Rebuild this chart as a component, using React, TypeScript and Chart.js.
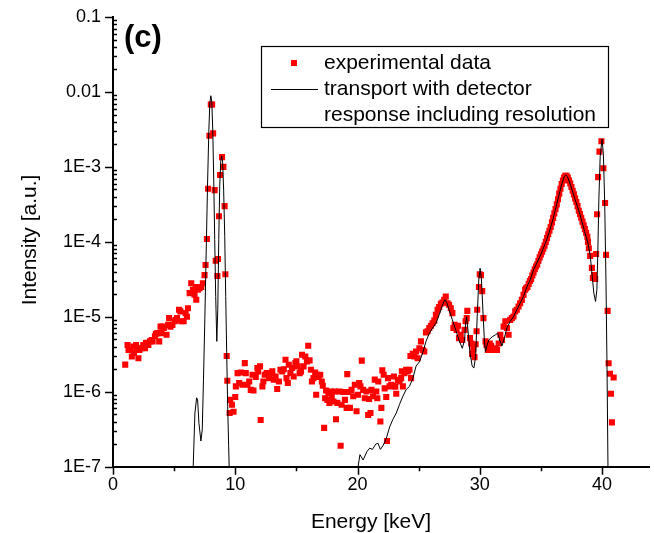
import React, { useEffect, useRef } from 'react';
import { Chart, registerables } from 'chart.js';

Chart.register(...registerables);

const FONT = '"Liberation Sans", Arial, Helvetica, sans-serif';

// ---------- data ----------
const expE = [
  1.00, 1.19, 1.27, 1.40, 1.54, 1.67, 1.72, 1.89, 2.00, 2.08, 2.16, 2.35, 2.48, 2.62, 2.70, 2.89,
  3.03, 3.16, 3.24, 3.43, 3.51, 3.62, 3.78, 3.89, 3.97, 4.05, 4.16, 4.38, 4.51, 4.59, 4.70, 4.86,
  5.05, 5.13, 5.24, 5.40, 5.51, 5.59, 5.78, 5.94, 6.05, 6.13, 6.27, 6.40, 6.54, 6.67, 6.76, 6.81,
  6.94, 7.08, 7.22, 7.35, 7.49, 7.57, 7.68,
  7.78, 7.89, 8.00, 8.11, 8.19, 8.32, 8.40, 8.54, 8.59, 8.67, 8.76, 8.92, 9.03, 9.13, 9.19, 9.30,
  9.35, 9.54, 9.59, 9.73, 9.86, 10.00,
  10.05, 10.19, 10.32, 10.46, 10.59, 10.78, 10.86, 11.00, 11.14, 11.27, 11.41, 11.49, 11.68, 11.81,
  11.87, 12.03, 12.08, 12.22, 12.30, 12.41, 12.57, 12.76, 12.89, 13.03, 13.16, 13.30, 13.43, 13.57,
  13.70, 13.84, 13.97, 14.11, 14.19, 14.30, 14.38, 14.51, 14.65, 14.78, 14.92, 15.00, 15.11, 15.27,
  15.38, 15.46, 15.59, 15.73, 15.86, 15.97, 16.08, 16.19, 16.27, 16.40, 16.54, 16.62, 16.68, 16.81,
  16.95, 17.08, 17.16, 17.27, 17.35, 17.43, 17.54, 17.62, 17.70, 17.81, 17.89, 18.03, 18.16, 18.24,
  18.35, 18.52, 18.62, 18.70, 18.84, 18.97, 19.11, 19.16, 19.24, 19.38, 19.51, 19.65, 19.78, 19.92,
  20.05, 20.14, 20.24, 20.35, 20.46, 20.60, 20.73, 20.87, 20.95, 21.06, 21.14, 21.27, 21.41, 21.54,
  21.62, 21.70, 21.87, 21.95, 22.03, 22.14, 22.22, 22.35, 22.41, 22.49, 22.62, 22.76,
  22.90, 22.98, 23.09, 23.17, 23.30, 23.44, 23.57, 23.63, 23.71, 23.84, 23.98, 24.11, 24.25, 24.33,
  24.38, 24.52, 24.65, 24.79, 24.92, 25.06, 25.19, 25.33, 25.46, 25.60, 25.73, 25.87, 26.01, 26.14,
  26.28, 26.41, 26.55, 26.68, 26.82, 26.95, 27.09, 27.22, 27.36, 27.49, 27.63, 27.76, 27.84, 27.95,
  28.11, 28.22, 28.30, 28.44, 28.57, 28.76, 28.84, 28.93, 28.98, 29.20, 29.30, 29.38, 29.47, 29.57,
  29.66, 29.74, 29.79, 29.93, 30.00, 30.10, 30.20, 30.30, 30.47, 30.55, 30.66, 30.74, 30.82, 30.93,
  31.01, 31.14, 31.28, 31.41, 31.55, 31.68, 31.82, 31.95, 32.09, 32.22, 32.36, 32.49, 32.63, 32.76,
  32.90, 33.03, 33.17, 33.30, 33.44, 33.58, 33.71, 33.79,
  33.9, 34.0, 34.1, 34.2, 34.3, 34.4, 34.5, 34.6, 34.7, 34.8, 34.9, 35.0, 35.1, 35.2, 35.3, 35.4,
  35.5, 35.6, 35.7, 35.8, 35.9, 36.0, 36.1, 36.2, 36.3, 36.4, 36.5, 36.6, 36.7, 36.8, 36.9, 37.0,
  37.1, 37.2, 37.3, 37.4, 37.5, 37.6, 37.7, 37.8, 37.9, 38.0, 38.1, 38.2, 38.3, 38.4, 38.5, 38.6,
  38.7, 38.8, 38.85, 38.92, 39.03, 39.17, 39.25, 39.35, 39.44, 39.52, 39.60, 39.68, 39.79, 39.95,
  40.11, 40.25, 40.33, 40.46, 40.54, 40.65, 40.73, 40.81, 40.95,
];

const expI = [
  2.3e-6, 4.2e-6, 3.6e-6, 3.6e-6, 2.95e-6, 4.0e-6, 3.3e-6, 4.2e-6, 3.8e-6, 2.8e-6, 3.6e-6, 3.8e-6, 4.2e-6, 3.8e-6, 4.5e-6, 4.2e-6,
  4.7e-6, 4.9e-6, 4.7e-6, 5.5e-6, 5.9e-6, 6.05e-6, 4.7e-6, 7.4e-6, 6.05e-6, 7.4e-6, 7.1e-6, 5.75e-6, 7.8e-6, 9.6e-6, 7.4e-6, 7.8e-6,
  8.7e-6, 9.1e-6, 9.6e-6, 1.24e-5, 1.18e-5, 8.7e-6, 8.7e-6, 1.12e-5, 1.0e-5, 1.3e-5, 2.07e-5, 2.8e-5, 2.3e-5, 1.97e-5, 2.5e-5, 1.69e-5,
  2.3e-5, 2.4e-5, 2.5e-5, 2.8e-5, 3.6e-5, 4.9e-5, 1.09e-4,
  5.1e-4, 2.6e-3, 6.8e-3, 6.8e-3, 2.8e-3, 4.9e-4, 5.6e-5, 3.5e-5, 5.9e-5, 2.2e-4, 7.8e-4, 1.35e-3, 1.0e-3, 3.0e-4, 3.7e-5, 3.0e-6,
  1.4e-6, 5.2e-7, 7.8e-7, 6.7e-7, 5.4e-7, 8.5e-7,
  1.18e-6, 1.77e-6, 1.31e-6, 1.81e-6, 1.24e-6, 2.41e-6, 1.77e-6, 1.24e-6, 1.37e-6, 1.06e-6, 1.69e-6, 1.04e-6, 1.57e-6, 2.07e-6,
  1.87e-6, 2.18e-6, 4.2e-7, 1.18e-6, 1.37e-6, 1.69e-6, 1.77e-6, 1.52e-6, 1.77e-6, 1.87e-6, 1.45e-6, 1.6e-6, 1.09e-6, 1.37e-6,
  1.97e-6, 1.87e-6, 2.0e-6, 2.67e-6, 1.52e-6, 1.31e-6, 2.29e-6, 1.77e-6, 2.07e-6, 1.6e-6, 2.41e-6, 2.54e-6, 2.18e-6, 1.77e-6,
  1.87e-6, 3.11e-6, 2.18e-6, 2.96e-6, 2.54e-6, 4.1e-6, 2.62e-6, 1.97e-6, 1.37e-6, 1.52e-6, 1.81e-6, 9.1e-7, 1.69e-6, 1.57e-6,
  1.69e-6, 1.37e-6, 1.2e-6, 3.3e-7, 8.2e-7, 1.04e-6, 7.8e-7, 9.6e-7, 7.1e-7, 1.01e-6, 8.7e-7, 7.4e-7, 1.01e-6, 4.3e-7,
  7.1e-7, 1.01e-6, 1.9e-7, 6.7e-7, 9.9e-7, 7.8e-7, 6.1e-7, 1.72e-6, 9.9e-7, 6.1e-7, 1.06e-6, 8.7e-7, 1.24e-6, 5.5e-7,
  9.1e-7, 1.31e-6, 1.18e-6, 2.6e-6, 1.06e-6, 8.2e-7, 1.01e-6, 4.9e-7, 8.0e-7, 5.2e-7, 1.06e-6, 8.7e-7, 1.45e-6, 1.01e-6,
  8.2e-7, 1.37e-6, 4.0e-7, 6.1e-7, 1.93e-6, 1.69e-6, 1.11e-6, 8.5e-7, 2.2e-7, 1.52e-6, 1.18e-6, 1.24e-6,
  1.2e-6, 1.6e-6, 1.17e-6, 9.4e-7, 1.44e-6, 1.37e-6, 1.52e-6, 1.87e-6, 1.18e-6, 1.77e-6, 1.97e-6, 1.87e-6, 1.97e-6, 3.0e-6,
  1.52e-6, 3.2e-6, 2.96e-6, 3.45e-6, 2.8e-6, 3.8e-6, 4.7e-6, 3.6e-6, 3.45e-6, 6.2e-6, 6.4e-6, 7.1e-6, 7.6e-6, 8.2e-6,
  8.9e-6, 1.06e-5, 1.24e-5, 1.35e-5, 1.49e-5, 1.55e-5, 1.68e-5, 1.87e-5, 1.52e-5, 1.45e-5, 1.3e-5, 1.12e-5, 7.1e-6, 7.8e-6,
  6.7e-6, 7.6e-6, 5.2e-6, 5.75e-6, 4.9e-6, 6.7e-6, 8.7e-6, 9.6e-6, 1.2e-5, 5.2e-6, 4.4e-6, 3.2e-6, 3.7e-6, 2.9e-6,
  4.3e-6, 6.4e-6, 1.24e-5, 2.5e-5, 3.7e-5, 3.6e-5, 2.2e-5, 9.6e-6, 4.7e-6, 4.2e-6, 3.6e-6, 3.7e-6, 4.4e-6, 4.1e-6,
  3.6e-6, 3.7e-6, 3.8e-6, 3.6e-6, 4.4e-6, 5.75e-6, 4.9e-6, 7.4e-6, 8.7e-6, 7.1e-6, 5.75e-6, 9.1e-6, 9.6e-6, 1.01e-5,
  1.18e-5, 1.24e-5, 1.37e-5, 1.52e-5, 1.68e-5, 1.96e-5, 2.3e-5, 2.4e-5,
  2.5e-5, 2.75e-5, 3.0e-5, 3.2e-5, 3.55e-5, 3.9e-5, 4.3e-5, 4.7e-5, 5.0e-5, 5.6e-5, 6.2e-5, 6.8e-5, 7.4e-5, 8.1e-5, 8.9e-5, 1.0e-4,
  1.12e-4, 1.26e-4, 1.41e-4, 1.58e-4, 1.82e-4, 2.09e-4, 2.4e-4, 2.75e-4, 3.16e-4, 3.7e-4, 4.4e-4, 5.1e-4, 5.9e-4, 6.6e-4, 7.2e-4, 7.6e-4,
  7.6e-4, 7.2e-4, 6.6e-4, 6.0e-4, 5.4e-4, 4.8e-4, 4.3e-4, 3.8e-4, 3.4e-4, 3.0e-4, 2.6e-4, 2.35e-4, 2.1e-4, 1.86e-4, 1.66e-4, 1.48e-4,
  1.32e-4, 1.17e-4, 1.0e-4, 8.2e-5, 6.5e-5, 4.5e-5, 3.3e-5, 3.6e-5, 3.2e-5, 6.9e-5, 2.34e-4, 7.3e-4, 1.6e-3, 2.2e-3,
  9.6e-4, 3.3e-4, 6.7e-5, 1.2e-5, 2.4e-6, 1.74e-6, 9.4e-7, 3.9e-7, 1.55e-6,
];

const modelE = [
  6.55, 6.70, 6.84, 6.92, 7.03, 7.19, 7.30, 7.40, 7.51, 7.62, 7.73, 7.84, 7.92, 8.00, 8.08, 8.16,
  8.24, 8.32, 8.40, 8.49, 8.57, 8.65, 8.73, 8.81, 8.89, 8.97, 9.05, 9.14, 9.22, 9.30, 9.38, 9.46, 9.51,
  15.0,
  20.0, 20.2, 20.46, 20.78, 21.00, 21.22, 21.49, 21.68, 21.87, 22.08, 22.36, 22.63, 22.90, 23.17, 23.44,
  23.71, 23.98, 24.25, 24.52, 24.79, 25.06, 25.33, 25.60, 25.87, 26.14, 26.41, 26.68, 26.95, 27.14, 27.30,
  27.49, 27.76, 28.03, 28.30, 28.57, 28.76, 28.84, 28.92, 29.03, 29.20, 29.38, 29.52, 29.66, 29.79, 29.92,
  30.03, 30.14, 30.28, 30.39, 30.47, 30.60, 30.74, 31.01, 31.28, 31.47, 31.63, 31.82, 32.01, 32.22, 32.49,
  32.76, 33.03, 33.30, 33.58, 33.85, 34.12, 34.39, 34.66, 34.93, 35.20, 35.47, 35.74, 36.01, 36.41, 36.69,
  36.90, 37.04, 37.17, 37.42, 37.77, 38.17, 38.58, 38.85, 39.04, 39.20, 39.33, 39.47, 39.58, 39.66, 39.74,
  39.85, 40.00, 40.11, 40.22, 40.33, 40.41, 40.49,
];

const modelI = [
  9e-8, 5.2e-7, 8.3e-7, 7.8e-7, 3.8e-7, 2.2e-7, 3.1e-7, 1.44e-6, 9.1e-6, 7.1e-5, 5.5e-4, 3.1e-3, 7.0e-3, 8.9e-3, 7.4e-3, 3.1e-3,
  6.7e-4, 1.07e-4, 1.87e-5, 4.7e-6, 1.24e-5, 1.07e-4, 5.5e-4, 1.18e-3, 1.4e-3, 1.13e-3, 4.9e-4, 1.17e-4, 1.87e-5, 3.3e-6, 6.3e-7, 1.9e-7, 9e-8,
  null,
  9e-8, 1.45e-7, 1.23e-7, 1.6e-7, 1.77e-7, 1.7e-7, 2.0e-7, 2.05e-7, 1.7e-7, 1.9e-7, 2.4e-7, 3.4e-7, 4.3e-7, 5.2e-7, 6.8e-7,
  8.7e-7, 1.07e-6, 1.18e-6, 1.5e-6, 2.2e-6, 2.5e-6, 3.3e-6, 4.7e-6, 6.0e-6, 7.1e-6, 8.2e-6, 1.06e-5, 1.44e-5, 1.69e-5, 1.55e-5,
  1.24e-5, 9.1e-6, 6.7e-6, 4.9e-6, 3.8e-6, 4.9e-6, 8.2e-6, 1.0e-5, 6.7e-6, 3.3e-6, 2.2e-6, 2.07e-6, 2.95e-6, 1.0e-5, 3.1e-5,
  4.45e-5, 3.1e-5, 1.0e-5, 4.5e-6, 3.45e-6, 4.2e-6, 4.9e-6, 5.4e-6, 5.75e-6, 6.05e-6, 4.9e-6, 4.1e-6, 5.2e-6, 7.1e-6, 8.7e-6,
  1.0e-5, 1.24e-5, 1.52e-5, 1.87e-5, 2.5e-5, 3.1e-5, 4.2e-5, 5.2e-5, 6.4e-5, 8.2e-5, 1.06e-4, 1.45e-4, 2.07e-4, 3.8e-4, 5.75e-4,
  7.4e-4, 7.8e-4, 7.4e-4, 5.75e-4, 3.8e-4, 2.4e-4, 1.37e-4, 9.6e-5, 6.4e-5, 3.45e-5, 2.07e-5, 1.6e-5, 2.3e-5, 7.8e-5, 3.6e-4,
  1.37e-3, 2.34e-3, 1.5e-3, 3.3e-4, 2.5e-5, 2.0e-6, 9e-8,
];

const xTickValues = [0, 10, 20, 30, 40];
const xMinorTickValues = [5, 15, 25, 35];
const yTickValues = [1e-7, 1e-6, 1e-5, 1e-4, 1e-3, 1e-2, 1e-1];
const yTickLabels = ['1E-7', '1E-6', '1E-5', '1E-4', '1E-3', '0.01', '0.1'];
const xTitle = 'Energy [keV]';
const yTitle = 'Intensity [a.u.]';
const panelLabel = '(c)';
const legendTexts = ['experimental data', 'transport with detector', 'response including resolution'];

export default function App() {
  const canvasRef = useRef<HTMLCanvasElement | null>(null);

  useEffect(() => {
    const canvas = canvasRef.current;
    if (!canvas) return;

    const decor = {
      id: 'decor',
      afterDraw(chart: any) {
        const ctx = chart.ctx as CanvasRenderingContext2D;
        const xs = chart.scales.x;
        const ys = chart.scales.y;
        const ca = chart.chartArea;
        ctx.save();
        ctx.strokeStyle = '#000';
        ctx.lineWidth = 1.5;
        ctx.beginPath();
        for (const v of xTickValues) {
          const px = Math.round(xs.getPixelForValue(v)) + 0.5;
          ctx.moveTo(px, ca.bottom);
          ctx.lineTo(px, ca.bottom + 8);
        }
        for (const v of xMinorTickValues) {
          const px = Math.round(xs.getPixelForValue(v)) + 0.5;
          ctx.moveTo(px, ca.bottom);
          ctx.lineTo(px, ca.bottom + 4.5);
        }
        for (const v of yTickValues) {
          const py = Math.round(ys.getPixelForValue(v)) + 0.5;
          ctx.moveTo(ca.left - 8, py);
          ctx.lineTo(ca.left, py);
        }
        for (let d = 0; d < yTickValues.length - 1; d++) {
          for (let k = 2; k <= 9; k++) {
            const py = Math.round(ys.getPixelForValue(yTickValues[d] * k)) + 0.5;
            ctx.moveTo(ca.left, py);
            ctx.lineTo(ca.left + 4, py);
          }
        }
        ctx.stroke();

        // axis titles
        ctx.fillStyle = '#000';
        ctx.font = `21px ${FONT}`;
        ctx.textAlign = 'center';
        ctx.textBaseline = 'middle';
        ctx.fillText(xTitle, 371, 522);
        ctx.save();
        ctx.translate(30, 240);
        ctx.rotate(-Math.PI / 2);
        ctx.fillText(yTitle, 0, 0);
        ctx.restore();

        // legend
        ctx.lineWidth = 1.2;
        ctx.strokeStyle = '#000';
        ctx.strokeRect(261.5, 46.5, 347, 81);
        ctx.fillStyle = '#ff0000';
        ctx.fillRect(291, 60, 6, 6);
        ctx.lineWidth = 1;
        ctx.beginPath();
        ctx.moveTo(271, 89.5);
        ctx.lineTo(318, 89.5);
        ctx.stroke();
        ctx.fillStyle = '#000';
        ctx.font = `21px ${FONT}`;
        ctx.textBaseline = 'middle';
        ctx.textAlign = 'left';
        ctx.fillText(legendTexts[0], 324, 63);
        ctx.fillText(legendTexts[1], 324, 89);
        ctx.fillText(legendTexts[2], 324, 115);

        // panel label
        ctx.font = `bold 31px ${FONT}`;
        ctx.textBaseline = 'alphabetic';
        ctx.fillText(panelLabel, 124, 47);
        ctx.restore();
      },
    };

    const chart = new Chart(canvas, {
      type: 'scatter',
      data: {
        datasets: [
          {
            label: 'transport with detector response including resolution',
            data: modelE.map((x, i) => ({ x, y: modelI[i] as any })),
            showLine: true,
            borderColor: '#000',
            borderWidth: 1,
            pointRadius: 0,
            pointHoverRadius: 0,
            fill: false,
            tension: 0,
            spanGaps: false,
            order: 0,
          } as any,
          {
            label: 'experimental data',
            data: expE.map((x, i) => ({ x, y: expI[i] })),
            pointStyle: 'rect',
            pointRadius: 4.3,
            pointHoverRadius: 4.3,
            backgroundColor: '#ff0000',
            borderColor: '#ff0000',
            borderWidth: 0,
            order: 1,
          } as any,
        ],
      },
      options: {
        responsive: false,
        maintainAspectRatio: false,
        animation: false,
        devicePixelRatio: 1,
        events: [],
        layout: { padding: { top: 17, right: 0, bottom: 0, left: 0 } },
        plugins: { legend: { display: false }, tooltip: { enabled: false }, title: { display: false } },
        scales: {
          x: {
            type: 'linear',
            min: 0,
            max: 43.9,
            afterBuildTicks: (s: any) => {
              s.ticks = xTickValues.map((v) => ({ value: v }));
            },
            afterFit: (s: any) => {
              s.height = 66.3;
            },
            ticks: {
              autoSkip: false,
              maxRotation: 0,
              padding: 0,
              color: '#000',
              font: { family: FONT, size: 18 },
              callback: (v: any) => String(v),
            },
            grid: { display: false },
            border: { display: true, color: '#000', width: 2 },
            title: { display: false },
          },
          y: {
            type: 'logarithmic',
            min: 1e-7,
            max: 0.1,
            afterBuildTicks: (s: any) => {
              s.ticks = yTickValues.map((v) => ({ value: v }));
            },
            afterFit: (s: any) => {
              s.width = 113;
            },
            ticks: {
              autoSkip: false,
              padding: 4,
              color: '#000',
              font: { family: FONT, size: 18 },
              callback: (v: any) => {
                const i = yTickValues.findIndex((t) => Math.abs(Math.log10(t) - Math.log10(v)) < 1e-6);
                return i >= 0 ? yTickLabels[i] : '';
              },
            },
            grid: { display: false },
            border: { display: true, color: '#000', width: 2 },
            title: { display: false },
          },
        },
      },
      plugins: [decor],
    });

    return () => chart.destroy();
  }, []);

  return (
    <div style={{ position: 'absolute', left: 0, top: 0, width: 654, height: 533, background: '#fff' }}>
      <canvas ref={canvasRef} width={654} height={533} style={{ display: 'block', width: 654, height: 533 }} />
    </div>
  );
}
